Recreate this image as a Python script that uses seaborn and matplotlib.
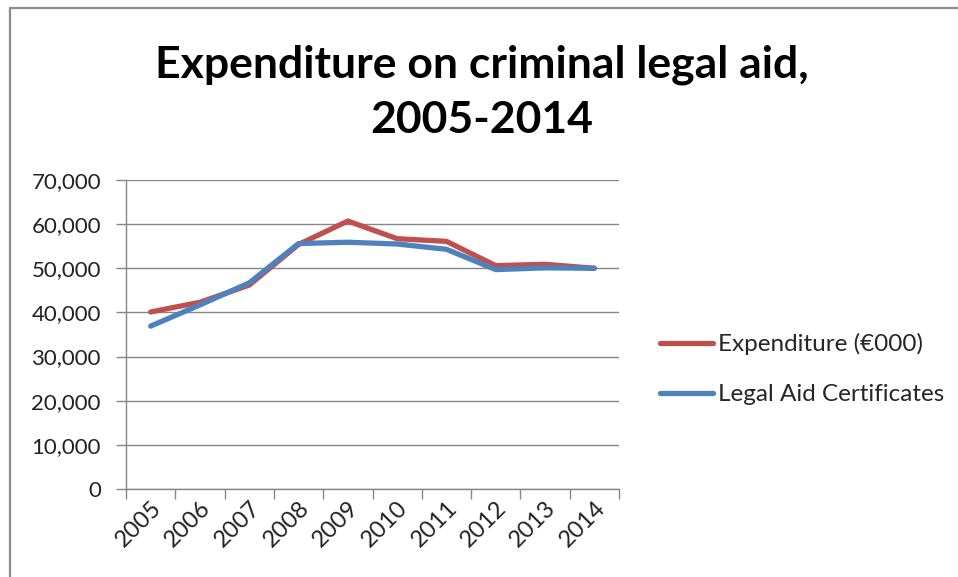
import numpy as np
import pandas as pd
import seaborn as sns
import matplotlib.pyplot as plt
from matplotlib.lines import Line2D
from matplotlib.ticker import FuncFormatter

# Values
years = ["2005", "2006", "2007", "2008", "2009", "2010", "2011", "2012", "2013", "2014"]
expenditure = [40100, 42300, 46200, 55400, 60700, 56700, 56100, 50600, 50900, 50000]
certificates = [36900, 41700, 46700, 55600, 55900, 55500, 54300, 49700, 50100, 50000]
series_names = ["Expenditure (€000)", "Legal Aid Certificates"]
colors = ["#C0504D", "#4F81BD"]

df = pd.DataFrame({
    "year": years * 2,
    "value": expenditure + certificates,
    "series": [series_names[0]] * len(years) + [series_names[1]] * len(years),
})

sns.set_theme(style="white")
plt.rcParams["font.family"] = ["Lato", "DejaVu Sans"]

W, H = 958, 577
fig = plt.figure(figsize=(W / 100, H / 100), dpi=100)
ax = fig.add_axes([126 / W, 1 - 489 / H, (619 - 126) / W, (489 - 180) / H])

sns.lineplot(
    data=df, x="year", y="value", hue="series", palette=colors,
    linewidth=3.8, sort=False, ax=ax, legend=True,
)

grey = "#868686"

# y axis
ax.set_ylim(0, 70000)
ax.set_yticks(np.arange(0, 70001, 10000))
ax.yaxis.set_major_formatter(FuncFormatter(lambda v, p: f"{int(v):,}"))
ax.yaxis.grid(True, color=grey, linewidth=1)
ax.set_axisbelow(True)
ax.tick_params(axis="y", which="major", direction="out", length=7, width=1,
               color=grey, labelsize=16, pad=11, left=True, labelcolor="#222222")

# x axis: tick marks on category boundaries, labels on centres
ax.set_xlim(-0.5, len(years) - 0.5)
ax.set_xticks(np.arange(-0.5, len(years), 1))
ax.set_xticklabels([])
ax.set_xticks(np.arange(len(years)), minor=True)
ax.set_xticklabels(years, minor=True, rotation=45, ha="right", va="top",
                   rotation_mode="anchor")
ax.tick_params(axis="x", which="major", direction="out", length=7, width=1,
               color=grey, bottom=True)
ax.tick_params(axis="x", which="minor", length=0, labelsize=17, pad=6,
               labelcolor="#222222")

for side in ["top", "right"]:
    ax.spines[side].set_visible(False)
for side in ["left", "bottom"]:
    ax.spines[side].set_color(grey)
    ax.spines[side].set_linewidth(1)

ax.set_xlabel("")
ax.set_ylabel("")

# Title
fig.text(482 / W, 1 - 92 / H, "Expenditure on criminal legal aid,\n2005-2014",
         ha="center", va="center", fontsize=32, fontweight="bold",
         linespacing=1.45, color="black")

# Legend
handles, labels = ax.get_legend_handles_labels()
ax.get_legend().remove()
fig.legend(handles, labels, loc="upper left",
           bbox_to_anchor=(660 / W, 1 - 333 / H), bbox_transform=fig.transFigure,
           frameon=False, fontsize=17.5, handlelength=2.2, handletextpad=0.2,
           labelspacing=1.2, borderpad=0, borderaxespad=0)

# Chart border (top and left edges visible)
fig.add_artist(Line2D([10 / W, 1], [1 - 8 / H, 1 - 8 / H], transform=fig.transFigure,
                      color="#8c8c8c", linewidth=1.6))
fig.add_artist(Line2D([10 / W, 10 / W], [0, 1 - 8 / H], transform=fig.transFigure,
                      color="#8c8c8c", linewidth=1.6))

fig.savefig("out.png", dpi=100, facecolor="white")
